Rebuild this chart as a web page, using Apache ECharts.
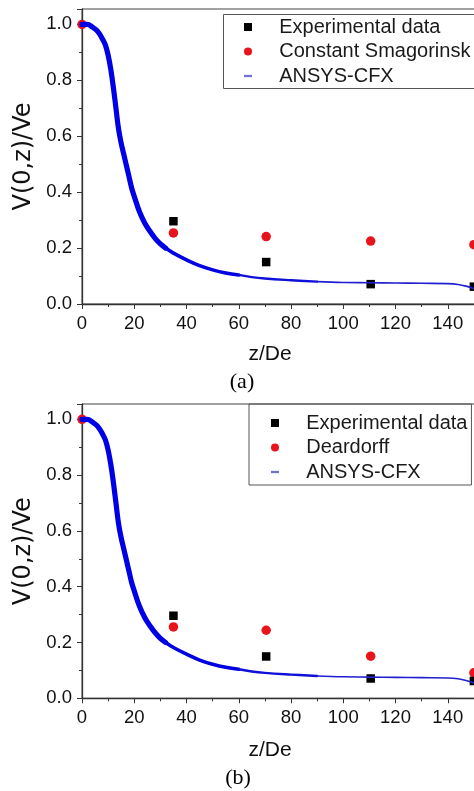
<!DOCTYPE html>
<html lang="en">
<head>
<meta charset="UTF-8">
<title>V(0,z)/Ve along the jet axis</title>
<script src="https://cdn.jsdelivr.net/npm/echarts@6/dist/echarts.min.js"></script>
<style>
    body { margin: 0; background: #fff; }
    #chart1 { width: 474px; height: 394px; }
    #chart2 { width: 474px; height: 397px; }
</style>
</head>
<body>
<div id="chart1"></div>
<div id="chart2"></div>
<script>
    // experimental points (z/De, V/Ve)
    let zExp = [35, 70.5, 110.5, 150];
    let expV = [0.296, 0.15, 0.071, 0.062];

    // LES points, same z plus the inlet
    let zLes = [0, 35, 70.5, 110.5, 150];
    let smagV = [1.0, 0.254, 0.241, 0.225, 0.212];
    let deardorffV = [1.0, 0.256, 0.244, 0.151, 0.0915];

    // ANSYS-CFX centre line curve
    let curveZ = [0, 2, 4, 6, 8, 9, 10, 11, 12, 13, 14, 15, 16, 17, 18, 19, 20, 22, 24, 26, 28, 30, 32, 35,
                  40, 45, 50, 55, 60, 65, 70, 80, 90, 100, 110, 120, 130, 140, 144, 147, 150];
    let curveV = [1.0, 1.0, 0.99, 0.975, 0.945, 0.925, 0.89, 0.84, 0.775, 0.70, 0.625, 0.575, 0.535, 0.495,
                  0.455, 0.415, 0.385, 0.33, 0.29, 0.26, 0.235, 0.215, 0.2, 0.182,
                  0.158, 0.137, 0.122, 0.111, 0.104, 0.096, 0.091, 0.085, 0.08, 0.077, 0.076, 0.075, 0.074, 0.073, 0.07, 0.064, 0.055];

    let FONT = "'Liberation Sans', Arial, sans-serif";

    function pairs(xs, ys) {
        return xs.map((x, i) => [x, ys[i]]);
    }

    // the marker band gets thinner as the curve flattens, so draw it in pieces
    let curve = pairs(curveZ, curveV);
    let bands = [
        { from: 0, to: 32, width: 5.2, color: '#0000e6' },
        { from: 32, to: 60, width: 3.6, color: '#0000e0' },
        { from: 60, to: 90, width: 2.4, color: '#1010d8' },
        { from: 90, to: 150, width: 1.6, color: '#2020d0' }
    ];

    function makeOption(cfg) {
        let curveSeries = bands.map(b => ({
            name: 'ANSYS-CFX', type: 'line',
            data: curve.filter(p => p[0] >= b.from && p[0] <= b.to),
            smooth: 0.4, symbol: 'none',
            lineStyle: { color: b.color, width: b.width, cap: 'round', join: 'round' }
        }));

        return {
            animation: false,
            grid: {
                left: 82, top: cfg.top, width: 418, height: cfg.height,
                outerBoundsMode: 'none', containLabel: false,
                show: true, borderColor: '#444', borderWidth: 1
            },
            legend: {
                orient: 'vertical',
                left: cfg.legendLeft, top: cfg.legendTop,
                padding: cfg.legendPad,
                itemGap: 4.5,
                itemWidth: 8, itemHeight: 8,
                borderColor: '#555', borderWidth: cfg.legendBorder,
                formatter: '    {name}',
                textStyle: { fontSize: 20, lineHeight: 20, color: '#1a1a1a', fontFamily: FONT },
                data: [
                    'Experimental data',
                    cfg.lesName,
                    { name: 'ANSYS-CFX', icon: 'path://M0,3 L7,3 L7,5 L0,5 Z', itemStyle: { color: '#7070d8' } }
                ]
            },
            xAxis: {
                type: 'value', min: 0, max: 160, interval: 20,
                axisLine: { show: true, onZero: false, lineStyle: { color: '#333', width: 1.3 } },
                axisTick: { show: true, length: 5, lineStyle: { color: '#333' } },
                minorTick: { show: true, splitNumber: 2, length: 3, lineStyle: { color: '#333' } },
                splitLine: { show: false },
                axisLabel: { margin: 10, fontSize: 18.5, color: '#111', fontFamily: FONT }
            },
            yAxis: {
                type: 'value', min: 0, max: 1.055, interval: 0.2,
                name: 'V(0,z)/Ve', nameLocation: 'middle', nameGap: 44,
                nameTextStyle: { fontSize: 24, color: '#111', fontFamily: "'DejaVu Sans', sans-serif" },
                axisLine: { show: true, onZero: false, lineStyle: { color: '#333', width: 1.3 } },
                axisTick: { show: true, length: 5, lineStyle: { color: '#333' } },
                minorTick: { show: true, splitNumber: 2, length: 3, lineStyle: { color: '#333' } },
                splitLine: { show: false },
                axisLabel: {
                    margin: 10, fontSize: 18.5, color: '#111', fontFamily: FONT,
                    formatter: v => Math.abs(v * 5 - Math.round(v * 5)) < 1e-6 ? v.toFixed(1) : ''
                }
            },
            graphic: [
                {
                    type: 'text', x: 270, y: cfg.nameY,
                    style: { text: 'z/De', font: '21px ' + FONT, fill: '#111',
                             align: 'center', verticalAlign: 'middle', textAlign: 'center', textVerticalAlign: 'middle' }
                },
                {
                    type: 'text', x: cfg.capX, y: cfg.capY,
                    style: { text: cfg.caption, font: "22px 'Liberation Serif', 'Times New Roman', serif", fill: '#000',
                             align: 'center', verticalAlign: 'middle', textAlign: 'center', textVerticalAlign: 'middle' }
                }
            ].concat(cfg.legendFrame ? [{
                // legend frame of (a) runs past the right edge of the picture
                type: 'rect', shape: cfg.legendFrame, z: 100,
                style: { fill: 'none', stroke: '#555', lineWidth: 1 }
            }] : []),
            series: curveSeries.concat([
                {
                    name: cfg.lesName, type: 'scatter', data: pairs(zLes, cfg.lesV),
                    symbol: 'circle', symbolSize: 9.5,
                    itemStyle: { color: '#e8141b', opacity: 1 }
                },
                {
                    name: 'Experimental data', type: 'scatter', data: pairs(zExp, expV),
                    symbol: 'rect', symbolSize: 8.5,
                    itemStyle: { color: '#000', opacity: 1 }
                }
            ])
        };
    }

    // (a) Constant Smagorinsky
    let chart1 = echarts.init(document.getElementById('chart1'));
    chart1.setOption(makeOption({
        top: 9, height: 295,
        lesName: 'Constant Smagorinsk', lesV: smagV,
        legendLeft: 223, legendTop: 14, legendPad: [3, 20, 3, 21], legendBorder: 0,
        legendFrame: { x: 223.5, y: 14.5, width: 280, height: 74 },
        nameY: 354, caption: '(a)', capX: 242, capY: 382
    }));

    // (b) Deardorff
    let chart2 = echarts.init(document.getElementById('chart2'));
    chart2.setOption(makeOption({
        top: 10, height: 294.3,
        lesName: 'Deardorff', lesV: deardorffV,
        legendLeft: 249, legendTop: 10, legendPad: [9, 4, 3, 22], legendBorder: 1,
        nameY: 356, caption: '(b)', capX: 238, capY: 384
    }));
</script>
</body>
</html>
